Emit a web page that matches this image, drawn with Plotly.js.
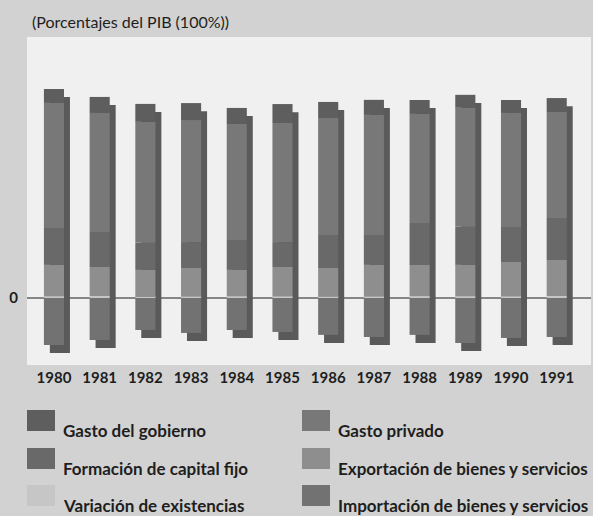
<!DOCTYPE html>
<html>
<head>
<meta charset="utf-8">
<script src="https://cdn.plot.ly/plotly-3.0.1.min.js"></script>
<style>
  html, body { margin: 0; padding: 0; background: #d2d2d2; }
  #chart { width: 593px; height: 516px; }
</style>
</head>
<body>
<div id="chart"></div>
<script>
// Porcentajes del PIB
const years = ['1980', '1981', '1982', '1983', '1984', '1985', '1986', '1987', '1988', '1989', '1990', '1991'];
const gastoGobierno = [8.6, 9.9, 11.1, 10.5, 9.9, 11.7, 9.9, 9.3, 8.6, 8.0, 8.0, 8.6];
const gastoPrivado = [77.2, 73.5, 74.7, 75.3, 71.6, 73.5, 72.2, 74.1, 67.3, 73.5, 70.4, 65.4];
const capitalFijo = [22.8, 21.6, 16.7, 16.0, 18.5, 15.4, 20.4, 18.5, 25.9, 23.5, 21.6, 25.9];
const existencias = [1.0, 1.2, 0.6, 0.8, 1.0, 0.9, 0.7, 0.8, 1.1, 1.0, 0.9, 1.2];
const exportaciones = [19.4, 17.9, 16.7, 17.7, 16.3, 18.2, 17.8, 19.6, 19.3, 19.4, 21.3, 22.3];
const importaciones = [29.0, 25.9, 19.8, 21.6, 19.8, 21.0, 22.8, 24.1, 22.8, 27.8, 24.7, 24.1];

const fontFamily = 'Lato, "Open Sans", "DejaVu Sans", sans-serif';
const textColor = '#1e1e1e';

const colors = {
    gobierno: '#5e5e5e',
    privado: '#787878',
    capital: '#696969',
    existencias: '#c6c6c6',
    exportaciones: '#8e8e8e',
    importaciones: '#727272',
    sombra: '#5a5a5a',
};

const barWidth = 0.44;
const shadowShift = 0.13;   // desplazamiento lateral de la sombra
const shadowDrop = 5;       // desplazamiento vertical de la sombra (en %)

// positive segments stacked upward from zero
const stackOrder = [
    {name: 'Variación de existencias', values: existencias, color: colors.existencias},
    {name: 'Exportación de bienes y servicios', values: exportaciones, color: colors.exportaciones},
    {name: 'Formación de capital fijo', values: capitalFijo, color: colors.capital},
    {name: 'Gasto privado', values: gastoPrivado, color: colors.privado},
    {name: 'Gasto del gobierno', values: gastoGobierno, color: colors.gobierno},
];

const running = years.map(() => 0);
const frontTraces = stackOrder.map(seg => {
    const base = running.slice();
    seg.values.forEach((v, i) => { running[i] += v; });
    return {
        type: 'bar',
        name: seg.name,
        x: years,
        y: seg.values,
        base: base,
        width: barWidth,
        marker: {color: seg.color, line: {width: 0}},
        showlegend: false,
        hoverinfo: 'x+y+name',
    };
});

const importTrace = {
    type: 'bar',
    name: 'Importación de bienes y servicios',
    x: years,
    y: importaciones.map(v => -v),
    base: years.map(() => 0),
    width: barWidth,
    marker: {color: colors.importaciones, line: {width: 0}},
    showlegend: false,
    hoverinfo: 'x+y+name',
};

// drop shadow behind each column
const shadowTrace = {
    type: 'bar',
    x: years,
    y: running.map((v, i) => v + importaciones[i]),
    base: importaciones.map(v => -v - shadowDrop),
    width: barWidth,
    offset: -barWidth / 2 + shadowShift,
    marker: {color: colors.sombra, line: {width: 0}},
    showlegend: false,
    hoverinfo: 'skip',
};

// plot box in pixels
const W = 593, H = 516;
const box = {l: 27, r: 2, t: 37, b: 151};
function px2x(px) { return (px - box.l) / (W - box.l - box.r); }
function px2y(py) { return (H - box.b - py) / (H - box.t - box.b); }

// legend drawn by hand: two columns, three rows
const legendItems = [
    ['Gasto del gobierno', colors.gobierno],
    ['Formación de capital fijo', colors.capital],
    ['Variación de existencias', colors.existencias],
    ['Gasto privado', colors.privado],
    ['Exportación de bienes y servicios', colors.exportaciones],
    ['Importación de bienes y servicios', colors.importaciones],
];
const colX = [27, 302];
const rowY = [410, 448, 485];
const shapes = [];
const annotations = [];
legendItems.forEach((item, k) => {
    const cx = colX[Math.floor(k / 3)];
    const ry = rowY[k % 3];
    shapes.push({
        type: 'rect', xref: 'paper', yref: 'paper',
        x0: px2x(cx), x1: px2x(cx + 28),
        y0: px2y(ry), y1: px2y(ry + 21),
        fillcolor: item[1], line: {width: 0},
    });
    annotations.push({
        xref: 'paper', yref: 'paper',
        x: px2x(cx + 34), y: px2y(ry + 20),
        xanchor: 'left', yanchor: 'middle',
        text: item[0], showarrow: false,
        font: {family: fontFamily, size: 17, color: textColor, weight: 700},
    });
});

const layout = {
    width: W,
    height: H,
    margin: box,
    paper_bgcolor: '#d2d2d2',
    plot_bgcolor: '#f0f0f0',
    barmode: 'overlay',
    title: {
        text: '(Porcentajes del PIB (100%))',
        x: 32 / W, xanchor: 'left', xref: 'container',
        y: 1 - 22 / H, yanchor: 'middle', yref: 'container',
        font: {family: fontFamily, size: 16, color: textColor},
    },
    xaxis: {
        type: 'category',
        range: [-0.59, 11.75],
        showgrid: false,
        zeroline: false,
        showline: false,
        ticks: '',
        ticklabelstandoff: 2,
        tickfont: {family: fontFamily, size: 15, color: textColor, weight: 700},
        fixedrange: true,
    },
    yaxis: {
        range: [-41.4, 161.1],
        tickvals: [0],
        ticktext: ['0'],
        showgrid: false,
        zeroline: true,
        zerolinecolor: '#868686',
        zerolinewidth: 1.5,
        showline: false,
        ticks: '',
        ticklabelstandoff: 8,
        tickfont: {family: fontFamily, size: 15, color: textColor, weight: 700},
        fixedrange: true,
    },
    shapes: shapes,
    annotations: annotations,
    showlegend: false,
};

const plotConfig = {displayModeBar: false, responsive: false};

Plotly.newPlot('chart', [shadowTrace, importTrace].concat(frontTraces), layout, plotConfig);
</script>
</body>
</html>
